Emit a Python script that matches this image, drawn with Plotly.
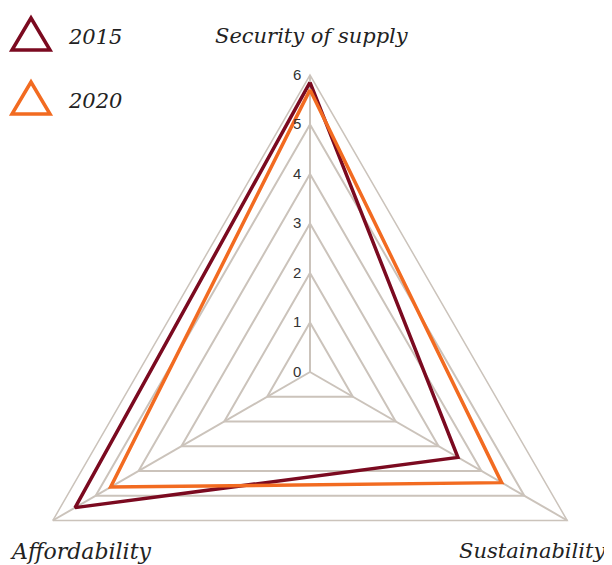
import plotly.graph_objects as go

# data
categories = ['Security of supply', 'Sustainability', 'Affordability']
years = ['2015', '2020']
values_2015 = [5.85, 3.45, 5.48]
values_2020 = [5.7, 4.47, 4.65]
radial_ticks = [0, 1, 2, 3, 4, 5, 6]

COLORS = ['#7b0a20', '#f26b21']
GRID = '#cbc3bb'
SERIF = 'DejaVu Serif'

# the page body has an 8px margin; the polar circle needs more height than the window
W, H = 604, 661
OFF = 8


def paper(x, y):
    # x, y in window pixels
    return (x - OFF) / W, 1 - (y - OFF) / H


fig = go.Figure()

for vals, color in zip([values_2015, values_2020], COLORS):
    fig.add_trace(go.Scatterpolar(
        r=vals + vals[:1], theta=categories + categories[:1],
        mode='lines', line=dict(color=color, width=3.5),
        showlegend=False, hoverinfo='skip'))

# legend with big outlined triangles
shapes = []
annotations = []
for i, (year, color) in enumerate(zip(years, COLORS)):
    dy = 64 * i
    pts = [paper(12, 50 + dy), paper(50, 50 + dy), paper(31, 18 + dy)]
    path = 'M{},{} L{},{} L{},{} Z'.format(*[c for p in pts for c in p])
    shapes.append(dict(type='path', xref='paper', yref='paper', path=path,
                       line=dict(color=color, width=3.5)))
    x, y = paper(66, 37 + dy)
    annotations.append(dict(text='<i>' + year + '</i>', x=x, y=y, xref='paper', yref='paper',
                            xanchor='left', yanchor='middle', showarrow=False,
                            font=dict(family=SERIF, size=21, color='#222')))

# axis names
for name, (x, y), size in zip(categories, [(312, 36), (532, 551), (80, 551)], [21, 21, 22]):
    px_, py_ = paper(x, y)
    annotations.append(dict(text='<i>' + name + '</i>', x=px_, y=py_, xref='paper', yref='paper',
                            xanchor='center', yanchor='middle', showarrow=False,
                            font=dict(family=SERIF, size=size, color='#222')))

cx, cy, rad = 310 - OFF, 372 - OFF, 297
fig.update_layout(
    width=W, height=H,
    margin=dict(l=0, r=0, t=0, b=0),
    paper_bgcolor='white',
    showlegend=False,
    shapes=shapes,
    annotations=annotations,
    polar=dict(
        domain=dict(x=[(cx - rad) / W, (cx + rad) / W], y=[0, 1 - (cy - rad) / H]),
        gridshape='linear',
        bgcolor='white',
        radialaxis=dict(range=[0, 6], tickvals=radial_ticks, angle=90, tickangle=90,
                        side='counterclockwise', showline=False,
                        ticks='outside', ticklen=3, tickcolor='rgba(0,0,0,0)',
                        gridcolor=GRID, gridwidth=1.5,
                        tickfont=dict(family='Liberation Sans', size=15, color='#333')),
        angularaxis=dict(rotation=90, direction='clockwise', showticklabels=False, ticks='',
                         gridcolor=GRID, gridwidth=1.5, linecolor=GRID, linewidth=1.5),
    ),
)

fig.write_html('out.html')
